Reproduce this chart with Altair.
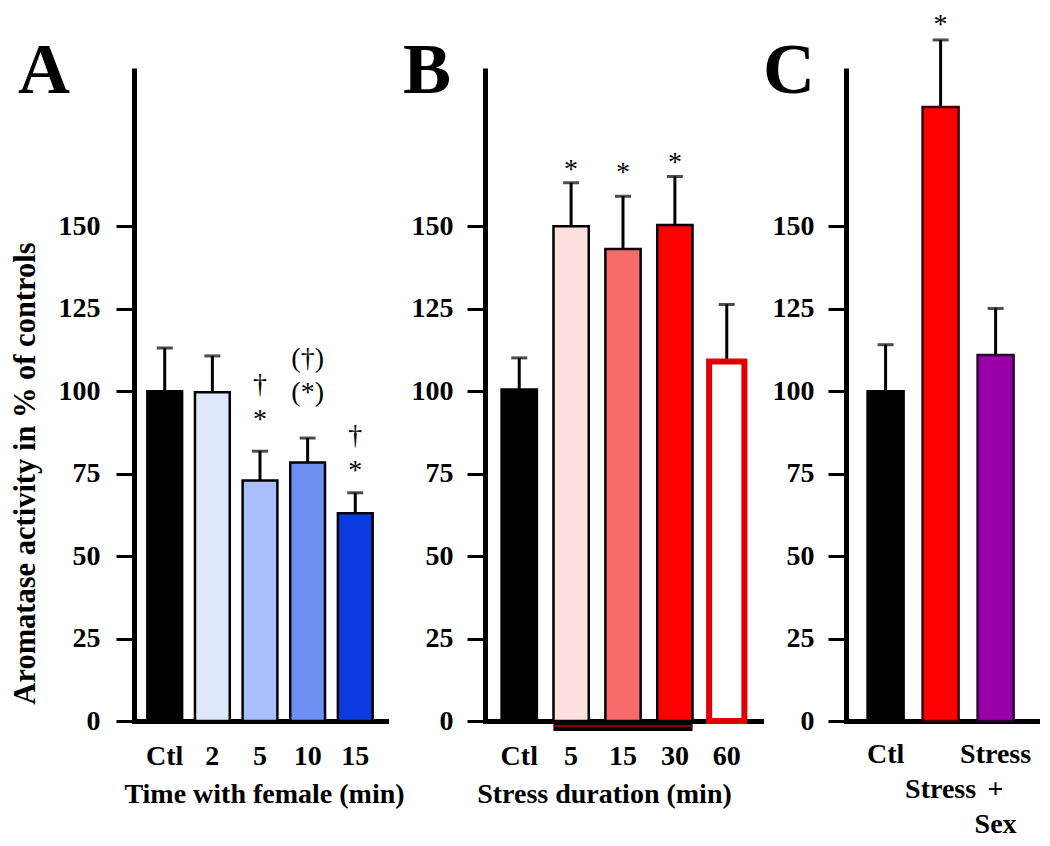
import altair as alt
import pandas as pd

# ---- data ----
a_groups = ["Ctl", "2", "5", "10", "15"]
a_means = [100.0, 99.7, 72.9, 78.4, 63.0]
a_sem = [13.1, 11.0, 8.9, 7.4, 6.2]
a_colors = ["#000000", "#dfe7fb", "#a9befa", "#6e8ff4", "#0b3ae0"]

b_groups = ["Ctl", "5", "15", "30", "60"]
b_means = [100.5, 150.0, 143.1, 150.4, 109.0]
b_sem = [9.6, 13.2, 16.0, 14.7, 17.3]
b_colors = ["#000000", "#fde0e0", "#f76b6b", "#ff0000", "#ffffff"]
b_strokes = ["#000000", "#000000", "#000000", "#000000", "#e00000"]

c_groups = ["Ctl", "Stress", "Stress + Sex"]
c_means = [100.0, 186.2, 111.0]
c_sem = [14.1, 20.3, 14.1]
c_colors = ["#000000", "#ff0000", "#9a00aa"]
c_strokes = ["#000000", "#3a0000", "#2a0030"]

a_ann_group = ["5", "5", "10", "10", "15", "15"]
a_ann_text = ["†", "*", "(†)", "(*)", "†", "*"]
a_ann_y = [99.6, 88.7, 107.3, 97.0, 84.0, 73.3]

b_ann_group = ["5", "15", "30"]
b_ann_text = ["*", "*", "*"]
b_ann_y = [164.5, 163.6, 166.7]

c_ann_group = ["Stress"]
c_ann_text = ["*"]
c_ann_y = [208.6]

b_bracket_from = ["5"]
b_bracket_to = ["30"]

panel_letters = ["A", "B", "C"]

y_ticks = [0, 25, 50, 75, 100, 125, 150]
y_max = 198

SERIF = "Liberation Serif"
PLOT_H = 653


def panel(groups, means, sem, fills, strokes, stroke_widths, ann_g, ann_t, ann_y,
          width, pad_inner, pad_outer, align, letter, letter_dx,
          xtitle, xtitle_x, ytitle, label_pad_y, label_pad_x, label_expr=None,
          bracket=None):
    df = pd.DataFrame({"g": groups, "m": means,
                       "e": [m + s for m, s in zip(means, sem)]})
    xscale = alt.Scale(domain=groups, paddingInner=pad_inner,
                       paddingOuter=pad_outer, align=align)
    yscale = alt.Scale(domain=[0, y_max], nice=False)

    xaxis_kw = dict(
        labelAngle=0, labelAlign="center", labelFont=SERIF, labelFontWeight="bold",
        labelFontSize=28, labelColor="black", labelBaseline="alphabetic",
        labelPadding=label_pad_x, labelOverlap=False, labelLimit=0,
        ticks=False, tickSize=0,
        domainWidth=5, domainColor="black", domainCap="square", grid=False,
    )
    if xtitle:
        xaxis_kw.update(title=xtitle, titleFont=SERIF, titleFontWeight="bold",
                        titleFontSize=28, titleColor="black",
                        titleBaseline="alphabetic", titleY=81, titleX=xtitle_x,
                        titleAlign="center")
    else:
        xaxis_kw.update(title="")
    if label_expr:
        xaxis_kw.update(labelExpr=label_expr, labelLineHeight=35)

    yaxis_kw = dict(
        values=y_ticks, labelFont=SERIF, labelFontWeight="bold", labelFontSize=28,
        labelColor="black", labelPadding=label_pad_y, tickSize=18, tickWidth=3,
        tickColor="black", domainWidth=5, domainColor="black", grid=False,
    )
    if ytitle:
        yaxis_kw.update(title=ytitle, titleFont=SERIF, titleFontWeight="bold",
                        titleFontSize=30.5, titleColor="black",
                        titleBaseline="alphabetic", titleAngle=-90,
                        titleX=-100, titleY=405, titleAlign="center")
    else:
        yaxis_kw.update(title="")

    base = alt.Chart(df)
    x_enc = alt.X("g:N", scale=xscale, sort=groups, axis=alt.Axis(**xaxis_kw))
    bars = base.mark_bar().encode(
        x=x_enc,
        y=alt.Y("m:Q", scale=yscale, axis=alt.Axis(**yaxis_kw)),
        fill=alt.Fill("g:N", scale=alt.Scale(domain=groups, range=fills), legend=None),
        stroke=alt.Stroke("g:N", scale=alt.Scale(domain=groups, range=strokes), legend=None),
        strokeWidth=alt.StrokeWidth("g:N", scale=alt.Scale(type="ordinal", domain=groups,
                                                           range=stroke_widths), legend=None),
    )
    err = base.mark_rule(color="black", strokeWidth=3).encode(
        x=alt.X("g:N", sort=groups), y="m:Q", y2="e:Q")
    cap = base.mark_tick(color="black", thickness=3, size=16).encode(
        x=alt.X("g:N", sort=groups), y="e:Q")
    layers = [err, bars, cap]

    if ann_g:
        adf = pd.DataFrame({"g": ann_g, "t": ann_t, "y": ann_y})
        ann = alt.Chart(adf).mark_text(font=SERIF, fontWeight="normal", fontSize=28,
                                       color="black", baseline="alphabetic",
                                       align="center").encode(
            x=alt.X("g:N", sort=groups), y="y:Q", text="t:N")
        layers.append(ann)

    if bracket:
        bdf = pd.DataFrame({"s": bracket[0], "t": bracket[1], "z": [0] * len(bracket[0])})
        br = alt.Chart(bdf).mark_rule(color="black", strokeWidth=10, yOffset=5,
                                      strokeCap="butt").encode(
            x=alt.X("s:N", bandPosition=0),
            x2=alt.X2("t", bandPosition=1),
            y="z:Q")
        br_in = alt.Chart(bdf).mark_rule(color="#8a0000", strokeWidth=2, yOffset=5,
                                         strokeCap="butt").encode(
            x=alt.X("s:N", bandPosition=0),
            x2=alt.X2("t", bandPosition=1),
            y="z:Q")
        layers.extend([br, br_in])

    # panel letter
    ldf = pd.DataFrame({"letter": [letter]})
    lab = alt.Chart(ldf).mark_text(font=SERIF, fontWeight="bold", fontSize=72,
                                   color="black", baseline="alphabetic",
                                   align="left").encode(
        x=alt.value(letter_dx), y=alt.value(25), text="letter:N")
    layers.append(lab)

    return alt.layer(*layers).properties(width=width, height=PLOT_H)


def spacer(w):
    return alt.Chart(pd.DataFrame({"z": [0]})).mark_point(opacity=0).encode(
        x=alt.value(0), y=alt.value(0)).properties(width=w, height=PLOT_H)


pA = panel(a_groups, a_means, a_sem, a_colors, ["#000000"] * 5, [2.5] * 5,
           a_ann_group, a_ann_text, a_ann_y,
           width=252, pad_inner=0.27, pad_outer=0.28, align=0.5,
           letter=panel_letters[0], letter_dx=-116,
           xtitle="Time with female (min)", xtitle_x=130,
           ytitle="Aromatase activity in % of controls",
           label_pad_y=16, label_pad_x=43)

pB = panel(b_groups, b_means, b_sem, b_colors, b_strokes, [2.5, 2.5, 2.5, 2.5, 6],
           b_ann_group, b_ann_text, b_ann_y,
           width=276, pad_inner=0.32, pad_outer=0.32, align=0.5,
           letter=panel_letters[1], letter_dx=-82,
           xtitle="Stress duration (min)", xtitle_x=119,
           ytitle=None, label_pad_y=14, label_pad_x=43,
           bracket=(b_bracket_from, b_bracket_to))

c_label_expr = ("datum.value == 'Stress' ? ['', 'Stress'] : "
                "datum.value == 'Stress + Sex' ? ['Stress', '+', 'Sex'] : datum.label")

pC = panel(c_groups, c_means, c_sem, c_colors, c_strokes, [2.5, 2.5, 2.5],
           c_ann_group, c_ann_text, c_ann_y,
           width=194, pad_inner=0.345, pad_outer=0.436, align=0.45,
           letter=panel_letters[2], letter_dx=-83,
           xtitle=None, xtitle_x=0, ytitle=None,
           label_pad_y=14, label_pad_x=41, label_expr=c_label_expr)

chart = alt.hconcat(pA, spacer(99), pB, spacer(85), pC, spacing=0, bounds="flush") \
    .resolve_scale(x="independent", y="independent", fill="independent",
                   stroke="independent", strokeWidth="independent") \
    .configure_view(strokeWidth=0) \
    .properties(padding={"left": 2, "top": 3, "right": 0, "bottom": 0})

chart.save("out.html", embed_options={"renderer": "svg", "actions": False})
